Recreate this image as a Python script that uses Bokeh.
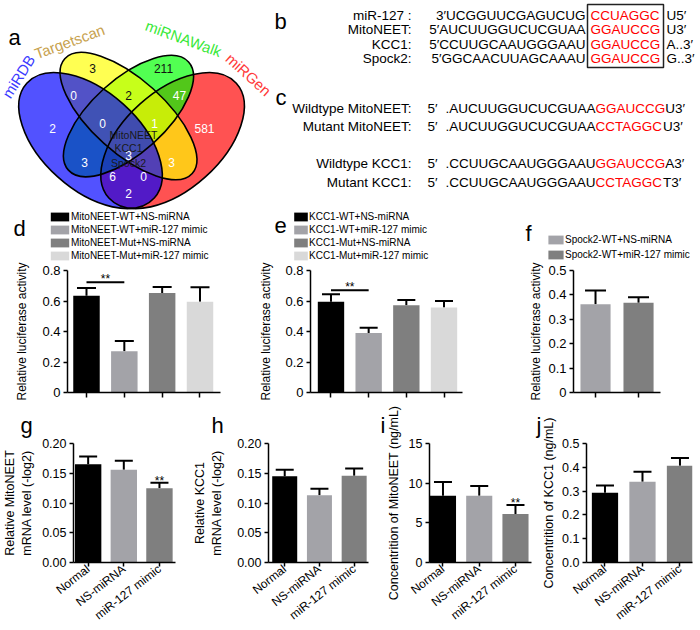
import math
from bokeh.plotting import figure
from bokeh.models import (Range1d, FixedTicker, ColumnDataSource, Whisker, TeeHead,
                          Legend, LegendItem, PrintfTickFormatter)
from bokeh.layouts import column, row
from bokeh.embed import file_html
from bokeh.resources import INLINE
from bokeh.core.properties import value

FONT = "Liberation Sans"

# ------------------------------------------------------------------ data
venn_sets = ["miRDB", "Targetscan", "miRNAWalk", "miRGen"]
venn_fill = ["#0000ff", "#ffff00", "#00ff00", "#ff0000"]
venn_label_colors = ["#3b3bff", "#c8a24e", "#38e838", "#ff3a3a"]
venn_counts = [2, 3, 211, 581, 0, 2, 47, 0, 1, 3, 3, 6, 0, 2, 3]
venn_count_dark = [False, True, True, False, False, True, False, False, False,
                   False, False, False, False, False, False]
venn_genes = ["MitoNEET", "KCC1", "Spock2"]

b_names = ["miR-127 :", "MitoNEET:", "KCC1:", "Spock2:"]
b_left = ["3′UCGGUUCGAGUCUG", "5′AUCUUGGUCUCGUAA", "5′CCUUGCAAUGGGAAU", "5′GGCAACUUAGCAAAU"]
b_seed = ["CCUAGGC", "GGAUCCG", "GGAUCCG", "GGAUCCG"]
b_right = ["U5′", "U3′", "A..3′", "G..3′"]

c_names = ["Wildtype MitoNEET:", "Mutant MitoNEET:", "Wildtype KCC1:", "Mutant KCC1:"]
c_left = [".AUCUUGGUCUCGUAA", ".AUCUUGGUCUCGUAA", ".CCUUGCAAUGGGAAU", ".CCUUGCAAUGGGAAU"]
c_seed = ["GGAUCCG", "CCTAGGC", "GGAUCCG", "CCTAGGC"]
c_right = ["U3′", "U3′", "A3′", "T3′"]

d_groups = ["MitoNEET-WT+NS-miRNA", "MitoNEET-WT+miR-127 mimic",
            "MitoNEET-Mut+NS-miRNA", "MitoNEET-Mut+miR-127 mimic"]
d_mean = [0.635, 0.270, 0.652, 0.595]
d_err = [0.050, 0.068, 0.040, 0.095]
d_sig = (1, 2, 0.723)

e_groups = ["KCC1-WT+NS-miRNA", "KCC1-WT+miR-127 mimic",
            "KCC1-Mut+NS-miRNA", "KCC1-Mut+miR-127 mimic"]
e_mean = [0.595, 0.390, 0.572, 0.557]
e_err = [0.050, 0.035, 0.035, 0.043]
e_sig = (1, 2, 0.670)

f_groups = ["Spock2-WT+NS-miRNA", "Spock2-WT+miR-127 mimic"]
f_mean = [0.362, 0.368]
f_err = [0.056, 0.022]

treatments = ["Normal", "NS-miRNA", "miR-127 mimic"]
g_mean = [0.165, 0.156, 0.125]
g_err = [0.013, 0.015, 0.009]
h_mean = [0.145, 0.113, 0.146]
h_err = [0.011, 0.011, 0.012]
i_mean = [8.4, 8.4, 6.1]
i_err = [1.75, 1.25, 1.15]
j_mean = [0.293, 0.339, 0.407]
j_err = [0.031, 0.042, 0.032]
g_sig_index = 2
i_sig_index = 2

four_colors = ["#000000", "#a3a3a8", "#7f7f7f", "#d9d9d9"]
two_colors = ["#a3a3a8", "#7f7f7f"]
three_colors = ["#000000", "#a3a3a8", "#7f7f7f"]

# Arial / Liberation Sans advance widths (1/1000 em) for sequence layout
ADV = {"A": 667, "C": 722, "G": 778, "U": 722, "T": 611, ".": 278}


def tw(s, px):
    return sum(ADV[ch] for ch in s) / 1000.0 * px


# ------------------------------------------------------------------ top panel (a, b, c + legends of d, e, f)
TOP_H = 262
top = figure(width=700, height=TOP_H, x_range=Range1d(0, 700), y_range=Range1d(TOP_H, 0),
             x_axis_location=None, y_axis_location=None, output_backend="svg",
             toolbar_location=None, min_border=0, outline_line_color=None)
top.grid.visible = False

# Venn diagram (four rotated ellipses)
S, VX = 245.0, 128.0
VY0 = 52 + 0.8294 * S
venn_shape = [(-0.155, 0.47, 0.35, 0.20, -42), (0.0, 0.57, 0.35, 0.15, -42),
              (0.0, 0.57, 0.33, 0.15, 42), (0.18, 0.47, 0.35, 0.20, 42)]
for k in [3, 2, 1, 0]:
    ux, uy, a, b, ang = venn_shape[k]
    top.ellipse(x=VX + ux * S, y=VY0 - uy * S, width=2 * a * S, height=2 * b * S,
                angle=math.radians(ang), fill_color=venn_fill[k], fill_alpha=0.68,
                line_color=None)
for k in range(4):
    ux, uy, a, b, ang = venn_shape[k]
    top.ellipse(x=VX + ux * S, y=VY0 - uy * S, width=2 * a * S, height=2 * b * S,
                angle=math.radians(ang), fill_color=None, line_color="black", line_width=1.6)

venn_count_xy = [(52, 128), (92, 68), (163, 68), (204, 128), (73, 95), (128, 95), (179, 95),
                 (102, 123), (154, 123), (84, 162), (171, 162), (112, 176), (143, 176),
                 (128, 193), (128, 155)]
top.text(x=[p[0] for p in venn_count_xy], y=[p[1] for p in venn_count_xy],
         text=[str(v) for v in venn_counts],
         text_color=["#111111" if dk else "white" for dk in venn_count_dark],
         text_font=value(FONT), text_font_size="12px", text_align="center",
         text_baseline="middle")
top.text(x=[133, 128, 128], y=[134, 147, 162], text=venn_genes, text_color="#1a1a1a",
         text_font=value(FONT), text_font_size="10.5px", text_align="center",
         text_baseline="middle")
venn_label_xy = [(18, 76), (69, 41), (183, 38), (248, 74)]
venn_label_ang = [58, 20, -20, -42]
top.text(x=[p[0] for p in venn_label_xy], y=[p[1] for p in venn_label_xy], text=venn_sets,
         angle=[math.radians(a) for a in venn_label_ang], text_color=venn_label_colors,
         text_font=value(FONT), text_font_size="15px", text_align="center",
         text_baseline="middle")

# panel letters
top.text(x=[8, 274, 275, 13, 274, 525], y=[37, 21, 97, 228, 225, 233],
         text=["a", "b", "c", "d", "e", "f"], text_font=value(FONT), text_font_size="22px",
         text_align="left", text_baseline="alphabetic", text_color="black")

SEQ_PX = 13.5
seq_font = dict(text_font=value(FONT), text_font_size="%spx" % SEQ_PX, text_baseline="middle")

# b: seed alignment
B_Y = [15, 29, 43.5, 58]
BOX_L, BOX_R = 587, 663
top.text(x=[411] * 4, y=B_Y, text=b_names, text_align="right", text_color="black", **seq_font)
top.text(x=[BOX_L - 2] * 4, y=B_Y, text=b_left, text_align="right", text_color="black", **seq_font)
top.text(x=[BOX_L + 3] * 4, y=B_Y, text=b_seed, text_align="left", text_color="#ff0000", **seq_font)
top.text(x=[BOX_R + 3] * 4, y=B_Y, text=b_right, text_align="left", text_color="black", **seq_font)
top.quad(left=[BOX_L], right=[BOX_R], top=[4], bottom=[67], fill_color=None,
         line_color="#222222", line_width=1.5)

# c: wild type / mutant sequences
C_Y = [108, 126, 163, 182]
PRE_X = 445
seed_x = [PRE_X + tw(s, SEQ_PX) for s in c_left]
suf_x = [sx + tw(sd, SEQ_PX) for sx, sd in zip(seed_x, c_seed)]
top.text(x=[411] * 4, y=C_Y, text=c_names, text_align="right", text_color="black", **seq_font)
top.text(x=[427] * 4, y=C_Y, text=["5′"] * 4, text_align="left", text_color="black", **seq_font)
top.text(x=[PRE_X] * 4, y=C_Y, text=c_left, text_align="left", text_color="black", **seq_font)
top.text(x=seed_x, y=C_Y, text=c_seed, text_align="left", text_color="#ff0000", **seq_font)
top.text(x=suf_x, y=C_Y, text=c_right, text_align="left", text_color="black", **seq_font)


def add_legend(fig, labels, colors, gx, gy, row_h, fsize, gw, standoff):
    items = []
    for lab, col in zip(labels, colors):
        # zero-area proxy glyph that carries the swatch style of the bar series
        r = fig.vbar(x=[0], top=[0], bottom=[0], width=0, fill_color=col, line_color=None)
        items.append(LegendItem(label=lab, renderers=[r]))
    n = len(labels)
    lg = Legend(items=items, location=(gx, TOP_H - gy - row_h * n),
                orientation="vertical", padding=0, spacing=0, margin=0,
                glyph_width=gw, glyph_height=11, label_height=row_h, label_width=0,
                label_standoff=standoff, label_text_font=FONT, label_text_font_size=fsize,
                label_text_color="black", border_line_color=None, background_fill_alpha=0)
    fig.add_layout(lg)


add_legend(top, d_groups, four_colors, 48, 210, 13, "10px", 23, 0)
add_legend(top, e_groups, four_colors, 292, 210, 13, "10px", 17, 0)
add_legend(top, f_groups, two_colors, 546, 231.5, 15, "10px", 19, 0)


# ------------------------------------------------------------------ bar panels
def style_axes(p, tick_px):
    for ax in (p.xaxis[0], p.yaxis[0]):
        ax.axis_line_width = 1.5
        ax.axis_line_color = "black"
        ax.major_tick_line_width = 1.5
        ax.major_tick_line_color = "black"
        ax.major_tick_in = 0
        ax.major_tick_out = 4
        ax.minor_tick_line_color = None
        ax.major_label_text_font = FONT
        ax.major_label_text_font_size = tick_px
        ax.major_label_text_color = "black"
        ax.axis_label_text_font = FONT
        ax.axis_label_text_font_style = "normal"
        ax.axis_label_text_color = "black"


def bar_panel(w, h, bl, br, bt, bb, xr, ymax, yticks, means, errs, colors, bar_w, cap,
              ylab, ylab_px, ylab_standoff, tick_px, xlabels=None, yover=None, yfmt=None,
              letter=None, letter_offset=0, sig_pair=None, sig_index=None):
    p = figure(width=w, height=h, x_range=Range1d(*xr), y_range=Range1d(0, ymax),
               output_backend="svg", toolbar_location=None, min_border_left=bl,
               min_border_right=br, min_border_top=bt, min_border_bottom=bb)
    p.outline_line_color = None
    p.grid.visible = False
    xs = list(range(1, len(means) + 1))
    ups = [m + e for m, e in zip(means, errs)]
    src = ColumnDataSource(dict(x=xs, top=means, upper=ups, color=colors))
    p.vbar(x="x", top="top", width=bar_w, fill_color="color", line_color=None, source=src)
    p.add_layout(Whisker(source=src, base="x", lower="top", upper="upper", dimension="height",
                         line_color="black", line_width=2, lower_head=None,
                         upper_head=TeeHead(size=cap, line_color="black", line_width=2)))
    style_axes(p, tick_px)
    xa, ya = p.xaxis[0], p.yaxis[0]
    xa.ticker = FixedTicker(ticks=xs)
    ya.ticker = FixedTicker(ticks=yticks)
    ya.major_label_standoff = 3
    if yfmt is not None:
        ya.formatter = PrintfTickFormatter(format=yfmt)
    if xlabels is not None:
        xa.major_label_overrides = {i + 1: lab for i, lab in enumerate(xlabels)}
        xa.major_label_orientation = math.radians(38)
        xa.major_label_text_font_size = "12px"
        xa.major_label_standoff = 1
    else:
        xa.major_tick_out = 5
        xa.major_label_text_font_size = "1px"
        xa.major_label_text_color = None
        xa.major_label_standoff = 0
    if yover:
        ya.major_label_overrides = yover
    ya.axis_label = ylab
    ya.axis_label_text_font_size = ylab_px
    ya.axis_label_standoff = ylab_standoff
    if sig_pair is not None:
        i0, i1, lvl = sig_pair
        p.line(x=[i0, i1], y=[lvl, lvl], line_color="black", line_width=2)
        p.text(x=[(i0 + i1) / 2], y=[lvl], text=["**"], text_align="center",
               text_baseline="middle", y_offset=-3, text_font=value(FONT),
               text_font_size="12px", text_color="black")
    if sig_index is not None:
        p.text(x=[xs[sig_index]], y=[ups[sig_index]], text=["**"], text_align="center",
               text_baseline="middle", y_offset=-2, text_font=value(FONT),
               text_font_size="12px", text_color="black")
    if letter is not None:
        p.title.text = letter
        p.title.align = "left"
        p.title.offset = letter_offset
        p.title.text_font = FONT
        p.title.text_font_size = "22px"
        p.title.text_font_style = "normal"
        p.title.text_color = "black"
        p.title.standoff = 11
    else:
        p.title = None
    return p


MID_H = 143
pd = bar_panel(250, MID_H, 67, 30, 8, 13, (0.498, 4.542), 0.8, [0, 0.2, 0.4, 0.6, 0.8],
               d_mean, d_err, four_colors, 0.70, 19, "Relative luciferase activity", "12px", 10,
               "13px", yover={0: "0"}, sig_pair=d_sig)
pe = bar_panel(262, MID_H, 60, 50, 8, 13, (0.456, 4.491), 0.8, [0, 0.2, 0.4, 0.6, 0.8],
               e_mean, e_err, four_colors, 0.70, 18, "Relative luciferase activity", "12px", 9,
               "13px", yover={0: "0"}, sig_pair=e_sig)
pf = bar_panel(188, MID_H, 61, 40, 8, 13, (0.488, 2.511), 0.5, [0, 0.1, 0.2, 0.3, 0.4, 0.5],
               f_mean, f_err, two_colors, 0.70, 21, "Relative luciferase activity", "12px", 2,
               "13px", yover={0: "0"})

BOT_H = 225
pg = bar_panel(190, BOT_H, 67, 15, 0, 64, (0.589, 3.45), 0.20, [0, 0.05, 0.10, 0.15, 0.20],
               g_mean, g_err, three_colors, 0.74, 18, "Relative MitoNEET\nmRNA level (-log2)",
               "12.5px", 5, "12.5px", xlabels=treatments, yfmt="%.2f", letter="g",
               letter_offset=-53, sig_index=g_sig_index)
ph = bar_panel(185, BOT_H, 70, 7, 0, 64, (0.533, 3.413), 0.20, [0, 0.05, 0.10, 0.15, 0.20],
               h_mean, h_err, three_colors, 0.72, 18, "Relative KCC1\nmRNA level (-log2)",
               "12.5px", 10, "12.5px", xlabels=treatments, yfmt="%.2f", letter="h",
               letter_offset=-57)
pi = bar_panel(160, BOT_H, 54, 4, 0, 64, (0.628, 3.442), 15, [0, 5, 10, 15],
               i_mean, i_err, three_colors, 0.72, 18, "Concentrition of MitoNEET (ng/mL)",
               "12.5px", 5, "12.5px", xlabels=treatments, letter="i", letter_offset=-49,
               sig_index=i_sig_index)
pj = bar_panel(165, BOT_H, 51, 8, 0, 64, (0.507, 3.334), 0.5, [0, 0.1, 0.2, 0.3, 0.4, 0.5],
               j_mean, j_err, three_colors, 0.70, 18, "Concentrition of KCC1 (ng/mL)",
               "12.5px", 3, "12.5px", xlabels=treatments, yfmt="%.1f", letter="j",
               letter_offset=-50)

layout = column(top, row(pd, pe, pf), row(pg, ph, pi, pj))
open("out.html", "w").write(file_html(layout, INLINE))
